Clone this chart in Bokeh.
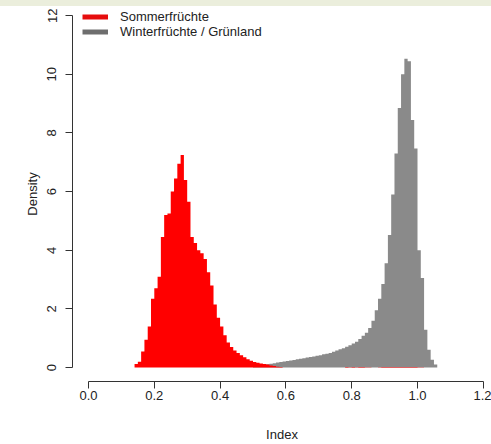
import numpy as np
from bokeh.plotting import figure
from bokeh.models import (Range1d, FixedTicker, PrintfTickFormatter, Legend,
                          LegendItem, Div)
from bokeh.layouts import column
from bokeh.embed import file_html
from bokeh.resources import INLINE

# ---------------- data ----------------
bin_width = 0.01

red_start = 0.14
red_density = [
    0.12, 0.20, 0.55, 0.95, 1.40, 2.35, 2.70, 3.10, 4.45, 5.20,   # 0.14-0.23
    5.25, 6.00, 6.45, 6.95, 7.25, 6.40, 5.65, 4.45, 4.25, 4.00,   # 0.24-0.33
    3.90, 3.70, 3.25, 2.80, 2.15, 1.70, 1.40, 1.10, 0.85, 0.70,   # 0.34-0.43
    0.58, 0.50, 0.42, 0.35, 0.28, 0.23, 0.19, 0.16, 0.14, 0.12,   # 0.44-0.53
    0.10, 0.07, 0.05, 0.03, 0.02, 0.00, 0.00, 0.00, 0.00, 0.00,   # 0.54-0.63
    0.00, 0.00, 0.00, 0.00, 0.00, 0.00, 0.00, 0.00, 0.00, 0.00,   # 0.64-0.73
    0.00, 0.00, 0.00, 0.00, 0.015, 0.01, 0.015, 0.01, 0.015, 0.015,  # 0.74-0.83
    0.01, 0.01, 0.005, 0.00, 0.01, 0.015, 0.015, 0.015, 0.015, 0.015,  # 0.84-0.93
    0.015, 0.015, 0.02, 0.015, 0.015, 0.015, 0.01, 0.01, 0.005,        # 0.94-1.02
]

gray_start = 0.50
gray_density = [
    0.03, 0.05, 0.07, 0.09, 0.11, 0.13, 0.15, 0.17, 0.19, 0.21,   # 0.50-0.59
    0.22, 0.24, 0.26, 0.28, 0.30, 0.32, 0.34, 0.36, 0.38, 0.40,   # 0.60-0.69
    0.42, 0.45, 0.47, 0.50, 0.54, 0.58, 0.62, 0.66, 0.71, 0.76,   # 0.70-0.79
    0.82, 0.88, 0.97, 1.08, 1.19, 1.35, 1.60, 1.95, 2.35, 2.85,   # 0.80-0.89
    3.56, 4.52, 5.90, 7.30, 8.85, 10.00, 10.53, 10.45, 8.44, 7.47,  # 0.90-0.99
    4.00, 3.05, 1.29, 0.61, 0.27, 0.10,                           # 1.00-1.05
]

x_ticks = [0.0, 0.2, 0.4, 0.6, 0.8, 1.0, 1.2]
y_ticks = [0, 2, 4, 6, 8, 10, 12]
series_labels = ["Sommerfrüchte", "Winterfrüchte / Grünland"]
x_title = "Index"
y_title = "Density"

# ---------------- styling ----------------
RED = "#ff0000"
GRAY = "#8a8a8a"
LEG_RED = "#e60d0d"
LEG_GRAY = "#6e6e6e"
FONT = "Liberation Sans"
TXT = "#222222"
AX = "#333333"


def step_xy(start, heights):
    n = len(heights)
    xs = [round(start + i * bin_width, 4) for i in range(n + 1)]
    ys = list(heights) + [heights[-1]]
    return xs, ys


p = figure(width=491, height=438,
           x_range=Range1d(-0.0486, 1.2249), y_range=Range1d(-0.476, 12.313),
           output_backend="svg", toolbar_location=None,
           min_border_left=72, min_border_right=0, min_border_top=0,
           min_border_bottom=62, margin=0)
p.outline_line_color = None
p.grid.visible = False
p.background_fill_color = "white"
p.border_fill_color = "white"

gx, gy = step_xy(gray_start, gray_density)
p.varea_step(x=gx, y1=[0] * len(gx), y2=gy, step_mode="after",
             fill_color=GRAY)
rx, ry = step_xy(red_start, red_density)
p.varea_step(x=rx, y1=[0] * len(rx), y2=ry, step_mode="after",
             fill_color=RED)

# axes
xa = p.xaxis[0]
xa.bounds = (0, 1.2)
xa.ticker = FixedTicker(ticks=x_ticks)
xa.formatter = PrintfTickFormatter(format="%.1f")
ya = p.yaxis[0]
ya.bounds = (0, 12)
ya.ticker = FixedTicker(ticks=y_ticks)
ya.formatter = PrintfTickFormatter(format="%d")
ya.major_label_orientation = "vertical"
for a in (xa, ya):
    a.axis_line_color = AX
    a.major_tick_line_color = AX
    a.major_tick_out = 7
    a.major_tick_in = 0
    a.minor_tick_out = 0
    a.minor_tick_in = 0
    a.major_label_text_font = FONT
    a.major_label_text_font_size = "13px"
    a.major_label_text_color = TXT
    a.axis_label_text_font = FONT
    a.axis_label_text_font_size = "13px"
    a.axis_label_text_font_style = "normal"
    a.axis_label_text_color = TXT
xa.major_label_standoff = 2
xa.axis_label = x_title
xa.axis_label_standoff = 24
ya.major_label_standoff = 9
ya.axis_label = y_title
ya.axis_label_standoff = 5

# legend (line swatches; NaN data so nothing is drawn in the plot itself)
l_red = p.line(x=[np.nan], y=[np.nan], line_color=LEG_RED, line_width=5)
l_gray = p.line(x=[np.nan], y=[np.nan], line_color=LEG_GRAY, line_width=5)
legend = Legend(items=[LegendItem(label=series_labels[0], renderers=[l_red]),
                       LegendItem(label=series_labels[1], renderers=[l_gray])],
                location=(10, 342), glyph_width=26, glyph_height=15,
                label_height=15, label_standoff=12, spacing=0, padding=0,
                margin=0, border_line_alpha=0, background_fill_alpha=0,
                label_text_font=FONT, label_text_font_size="13px",
                label_text_color=TXT)
p.add_layout(legend)

band = Div(width=491, height=6, margin=0,
           styles={"background-color": "#ebeedc", "margin": "0",
                   "padding": "0"})
layout = column(band, p, spacing=0, margin=0)

open("out.html", "w").write(file_html(layout, INLINE))
